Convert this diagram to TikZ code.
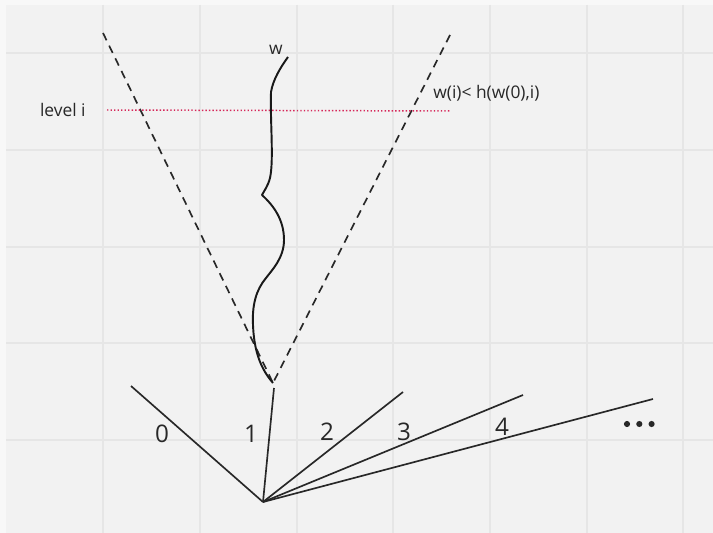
\documentclass[tikz,border=0pt]{standalone}
\usepackage{fontspec}
\setmainfont{Open Sans}
\usepackage{tikz}
\usetikzlibrary{positioning, calc}
\definecolor{mybg}{RGB}{242,242,242}
\definecolor{myedge}{RGB}{248,248,248}
\definecolor{mygrid}{RGB}{230,230,230}
\definecolor{mydark}{RGB}{40,40,40}
\definecolor{mytext}{RGB}{40,40,40}
\definecolor{mypink}{RGB}{214,40,90}
\tikzset{
  gridline/.style={draw=mygrid, line width=0.6pt},
  branch/.style={draw=mydark, line width=0.95pt},
  cone/.style={draw=mydark, line width=0.95pt, dash pattern=on 4.6pt off 3.4pt},
  walk/.style={draw=black!90, line width=1.1pt, line join=round},
  levelline/.style={draw=mypink, line width=0.85pt, dash pattern=on 0.8pt off 1.2pt},
  lbl/.style={font=\fontsize{9.9}{11}\selectfont, text=mytext, inner sep=0pt},
  numlbl/.style={font=\fontsize{13.8}{15}\selectfont, text=mytext, inner sep=0pt}
}

\begin{document}
\begin{tikzpicture}[x=0.02cm, y=-0.02cm]
  % background and grid
  \fill[myedge] (0,0) rectangle (713,533);
  \fill[mybg] (6,5) rectangle (713,533);
  \useasboundingbox (0,0) rectangle (713,533);
  \foreach \x in {103, 200, 297, 393, 490, 587, 683} {
    \draw[gridline] (\x, 5) -- (\x, 533);
  }
  \foreach \y in {53, 150, 247, 343, 440} {
    \draw[gridline] (6, \y) -- (713, \y);
  }

  % cone
  \coordinate (apex) at (273,383);
  \coordinate (ltop) at (103,33);
  \coordinate (rtop) at (450,35);
  \draw[cone] (ltop) -- (apex);
  \draw[cone] (rtop) -- (apex);

  % level i
  \coordinate (lvla) at (107,110);
  \coordinate (lvlb) at (451,111);
  \draw[levelline] (lvla) -- (lvlb);
  \node[lbl, anchor=east] (level) at (86,110) {level i};
  \node[lbl, anchor=west] (bound) at (433,93) {w(i)< h(w(0),i)};

  % the path w
  \coordinate (wtop) at (288,57);
  \node[lbl, anchor=south] (wlbl) at (276,55) {w};
  \draw[walk] (wtop) .. controls (280,68) and (273,80) .. (271,92)
    .. controls (270,120) and (274,160) .. (270,178)
    .. controls (268,186) and (264,191) .. (262,195)
    .. controls (274,206) and (284,220) .. (284,240)
    .. controls (284,258) and (272,270) .. (266,278)
    .. controls (256,290) and (252,305) .. (253,325)
    .. controls (254,350) and (260,368) .. (apex);

  % branches
  \coordinate (root) at (263,502);
  \coordinate (e0) at (131,386);
  \coordinate (e1) at (274,388);
  \coordinate (e2) at (403,392);
  \coordinate (e3) at (523,395);
  \coordinate (e4) at (653,399);
  \foreach \e in {e0, e1, e2, e3, e4} {
    \draw[branch] (root) -- (\e);
  }
  \node[numlbl] (n0) at (162,434) {0};
  \node[numlbl] (n1) at (251,434) {1};
  \node[numlbl] (n2) at (327,432) {2};
  \node[numlbl] (n3) at (404,432) {3};
  \node[numlbl] (n4) at (502,427) {4};
  \foreach \d in {0,1,2} {
    \fill[mydark] (627+\d*12.3,424) circle (1.75pt);
  }
\end{tikzpicture}
\end{document}
